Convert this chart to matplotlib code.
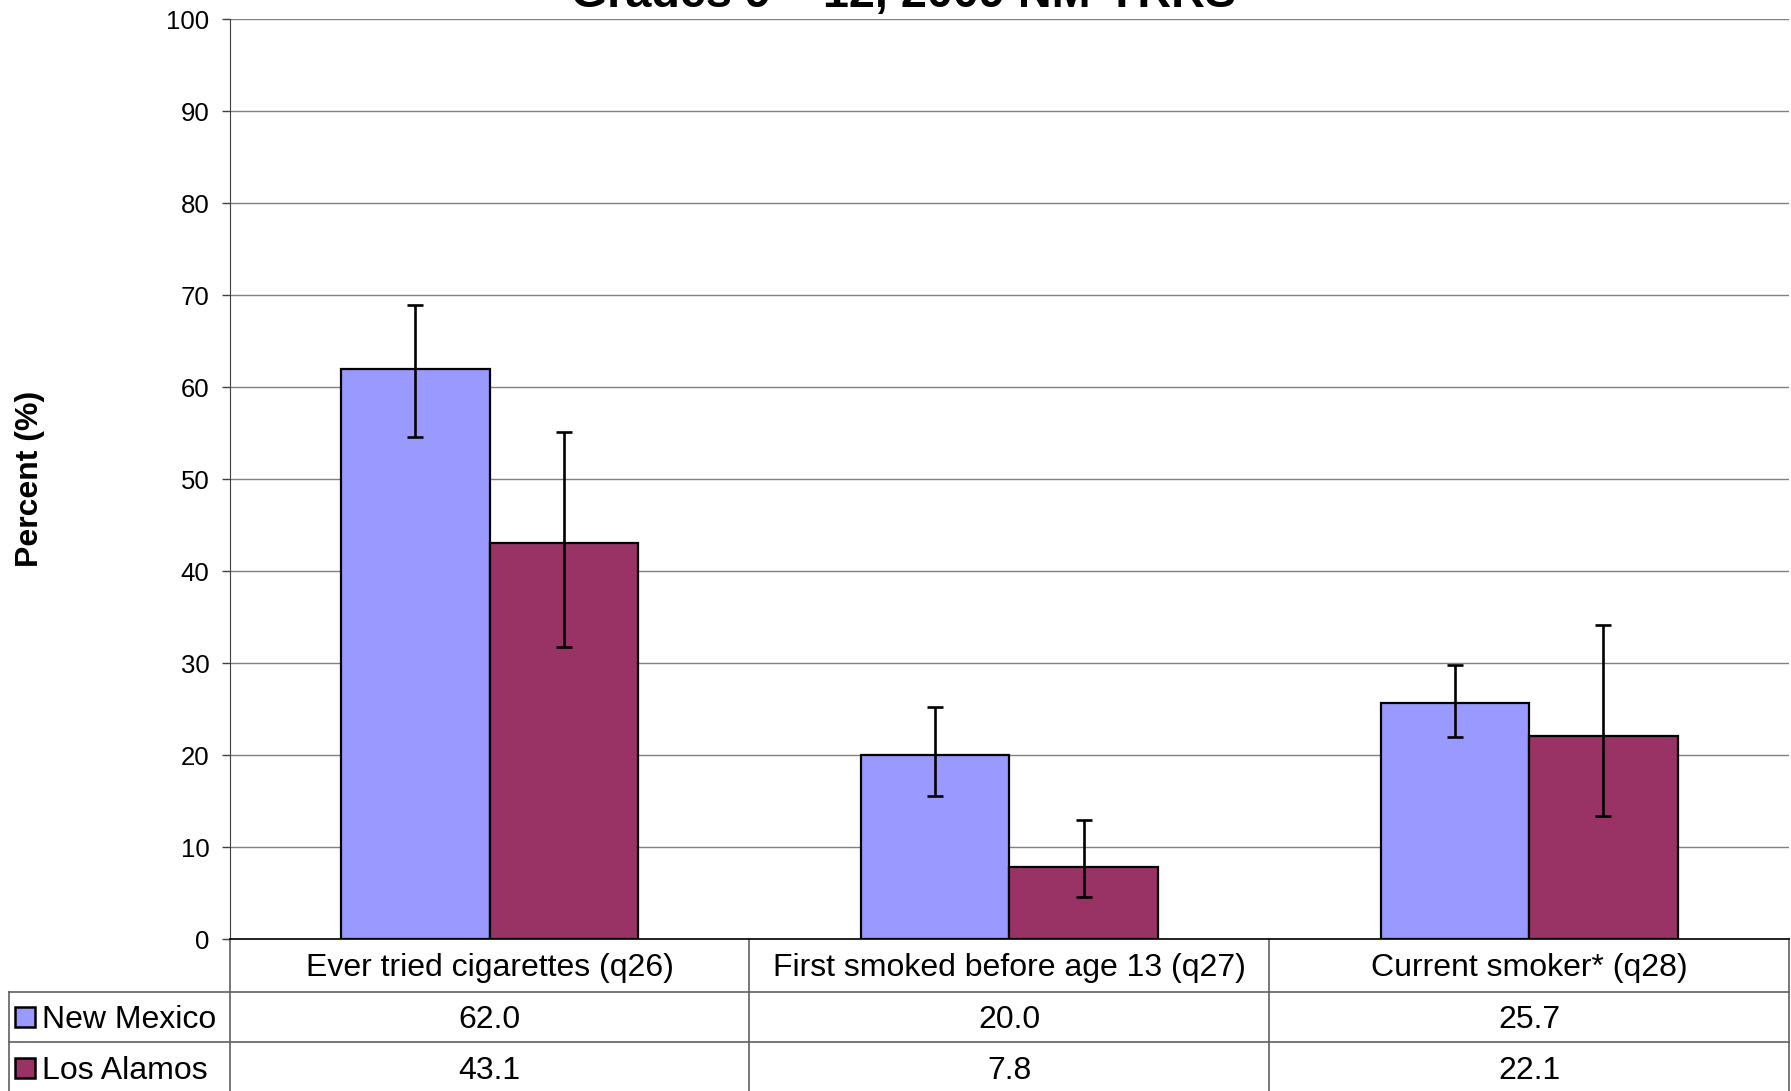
import numpy as np
import matplotlib.pyplot as plt
import matplotlib.transforms as mtransforms
from matplotlib.patches import Rectangle

plt.rcParams['font.family'] = ['Liberation Sans', 'DejaVu Sans']

categories = ['Ever tried cigarettes (q26)', 'First smoked before age 13 (q27)', 'Current smoker* (q28)']
series = ['New Mexico', 'Los Alamos']
nm = [62.0, 20.0, 25.7]
la = [43.1, 7.8, 22.1]
nm_lo = [54.6, 15.6, 22.0]
nm_hi = [68.9, 25.2, 29.8]
la_lo = [31.8, 4.6, 13.4]
la_hi = [55.1, 12.9, 34.2]
colors = ['#9999FF', '#993366']

fig = plt.figure(figsize=(17.91, 10.91), dpi=100)
ax = fig.add_axes([0.1282, 0.1393, 0.9989 - 0.1282, 0.9822 - 0.1393])

x = np.arange(len(categories))
w = 0.2857
vals = [nm, la]
los = [nm_lo, la_lo]
his = [nm_hi, la_hi]
for i in range(2):
    xs = x + (i - 0.5) * w
    v = np.array(vals[i])
    err = [v - np.array(los[i]), np.array(his[i]) - v]
    ax.bar(xs, v, w, color=colors[i], edgecolor='black', linewidth=1.6, zorder=3)
    ax.errorbar(xs, v, yerr=err, fmt='none', ecolor='black', elinewidth=1.9,
                capsize=5.5, capthick=1.9, zorder=4)

ax.set_xlim(-0.5, 2.5)
ax.set_ylim(0, 100)
ax.set_yticks(range(0, 101, 10))
ax.set_xticks([])
ax.yaxis.grid(True, color='#808080', linewidth=1.0, zorder=0)
ax.tick_params(axis='y', labelsize=18.5, length=6, width=1, direction='out', pad=8.4, color='#404040')
for s in ['top', 'right']:
    ax.spines[s].set_visible(False)
ax.spines['left'].set_color('#404040')
ax.spines['bottom'].set_color('black')
ax.spines['bottom'].set_linewidth(1.2)
ax.set_ylabel('Percent (%)', fontsize=23, fontweight='bold', labelpad=0)
ax.yaxis.set_label_coords(-0.1187, 0.5)

# title (only the bottom line shows in the original, partly cut off)
fig.text(0.5045, 1 - 7 / 1091, 'Grades 9 \u2013 12, 2009 NM-YRRS', ha='center', va='baseline',
         fontsize=33.7, fontweight='bold')

# data table under the plot
tr = mtransforms.blended_transform_factory(ax.transData, fig.transFigure)
y_top = 0.1393
y_r1 = 1 - 991.5 / 1091
y_r2 = 1 - 1041.7 / 1091
y_bot = 0.0
left_fig = 9 / 1791
gc = '#606060'
bounds = np.arange(len(categories) + 1) - 0.5
for b in bounds:
    ax.plot([b, b], [y_bot, y_top], transform=tr, color=gc, lw=1.2, clip_on=False)
fig.add_artist(plt.Line2D([left_fig, left_fig], [y_bot, y_r1], color=gc, lw=1.2))
for yy in [y_r1, y_r2]:
    fig.add_artist(plt.Line2D([left_fig, 0.9989], [yy, yy], color=gc, lw=1.2))

dy = 3 / 1091
row_y = [(y_r1 + y_r2) / 2 - dy, y_r2 - 0.0245 - dy]
for j, c in enumerate(categories):
    ax.text(x[j], (y_top + y_r1) / 2 - dy, c, transform=tr, ha='center', va='center', fontsize=23)
    ax.text(x[j], row_y[0], f'{nm[j]:.1f}', transform=tr, ha='center', va='center', fontsize=23)
    ax.text(x[j], row_y[1], f'{la[j]:.1f}', transform=tr, ha='center', va='center', fontsize=23)

for i, name in enumerate(series):
    ks = 20 / 1791
    kh = 20 / 1091
    fig.add_artist(Rectangle((15 / 1791, row_y[i] - kh / 2 + dy), ks, kh, transform=fig.transFigure,
                             facecolor=colors[i], edgecolor='black', linewidth=1.8))
    fig.text(42 / 1791, row_y[i], name, ha='left', va='center', fontsize=23)

fig.savefig('out.png', dpi=100)
